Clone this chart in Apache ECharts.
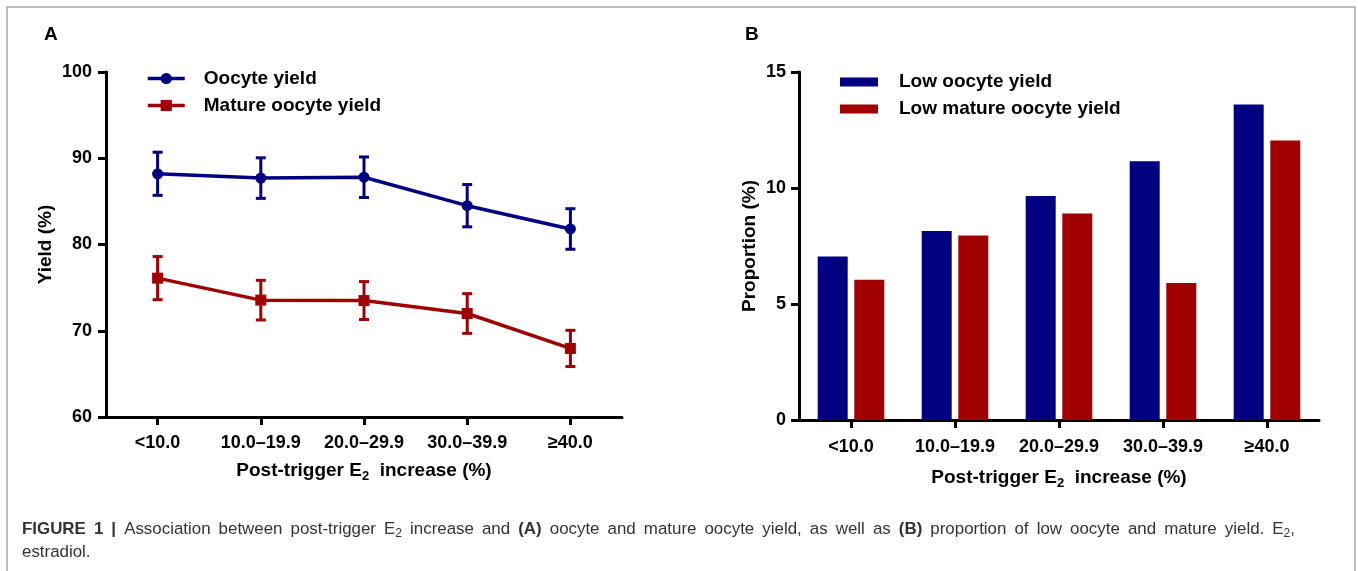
<!DOCTYPE html>
<html>
<head>
<meta charset="utf-8">
<script src="https://cdn.jsdelivr.net/npm/echarts@6/dist/echarts.min.js"></script>
<style>
  html, body { margin: 0; padding: 0; background: #fff; }
  #main { width: 1358px; height: 571px; }
</style>
</head>
<body>
<div id="main"></div>
<script>
// categories shared by both panels
var categories = ['<10.0', '10.0–19.9', '20.0–29.9', '30.0–39.9', '≥40.0'];

// panel A: yield (%) with error half-widths
var oocyteYield = [88.2, 87.7, 87.8, 84.5, 81.8];
var oocyteErr = [2.5, 2.35, 2.35, 2.45, 2.35];
var matureYield = [76.1, 73.55, 73.5, 72.0, 67.95];
var matureErr = [2.5, 2.3, 2.2, 2.3, 2.1];

// panel B: proportion (%)
var lowOocyte = [7.05, 8.15, 9.65, 11.15, 13.6];
var lowMature = [6.05, 7.95, 8.9, 5.9, 12.05];

var BLUE = '#000080';
var RED = '#a00000';
var FONT = '"Liberation Sans", Arial, sans-serif';

function errData(mean, err) {
  return mean.map(function (m, i) { return [i, m - err[i], m + err[i]]; });
}

function errorBars(color) {
  return function (params, api) {
    var i = api.value(0);
    var lo = api.coord([i, api.value(1)]);
    var hi = api.coord([i, api.value(2)]);
    var w = 5;
    var st = { stroke: color, lineWidth: 3, fill: null };
    return {
      type: 'group',
      children: [
        { type: 'line', shape: { x1: hi[0], y1: hi[1], x2: lo[0], y2: lo[1] }, style: st },
        { type: 'line', shape: { x1: hi[0] - w, y1: hi[1], x2: hi[0] + w, y2: hi[1] }, style: st },
        { type: 'line', shape: { x1: lo[0] - w, y1: lo[1], x2: lo[0] + w, y2: lo[1] }, style: st }
      ]
    };
  };
}

var axisLineSt = { show: true, lineStyle: { color: '#000', width: 3 } };
var tickSt = { show: true, length: 8, lineStyle: { color: '#000', width: 3 } };
var labelSt = { color: '#000', fontSize: 18, fontWeight: 'bold', fontFamily: FONT };
var nameSt = {
  color: '#000', fontSize: 19, fontWeight: 'bold', fontFamily: FONT, lineHeight: 24,
  rich: { s: { fontSize: 13, fontWeight: 'bold', fontFamily: FONT, color: '#000', verticalAlign: 'bottom' } }
};
var xName = 'Post-trigger E{s|2}  increase (%)';

// caption: first line is justified in the source, so spaces are widened a little
var capLine1 = '{b|FIGURE 1 |} Association between post-trigger E{s|2} increase and {b|(A)} oocyte and mature oocyte yield, as well as {b|(B)} proportion of low oocyte and mature yield. E{s|2},'
  .replace(/ /g, ' \u2009');

var chart = echarts.init(document.getElementById('main'));

chart.setOption({
  animation: false,
  backgroundColor: '#fff',
  grid: [
    { left: 106, width: 516, top: 72, height: 345 },
    { left: 799, width: 520, top: 72, height: 348 }
  ],
  xAxis: [
    {
      type: 'category', gridIndex: 0, data: categories,
      axisLine: axisLineSt, axisTick: Object.assign({ alignWithLabel: true }, tickSt),
      axisLabel: Object.assign({ margin: 17, interval: 0 }, labelSt),
      name: xName, nameLocation: 'middle', nameGap: 42, nameTextStyle: nameSt
    },
    {
      type: 'category', gridIndex: 1, data: categories,
      axisLine: axisLineSt, axisTick: Object.assign({ alignWithLabel: true }, tickSt),
      axisLabel: Object.assign({ margin: 18, interval: 0 }, labelSt),
      name: xName, nameLocation: 'middle', nameGap: 46, nameTextStyle: nameSt
    }
  ],
  yAxis: [
    {
      type: 'value', gridIndex: 0, min: 60, max: 100, interval: 10,
      axisLine: axisLineSt, axisTick: tickSt, splitLine: { show: false },
      axisLabel: Object.assign({ margin: 14 }, labelSt),
      name: 'Yield (%)', nameLocation: 'middle', nameGap: 37, nameTextStyle: nameSt
    },
    {
      type: 'value', gridIndex: 1, min: 0, max: 15, interval: 5,
      axisLine: axisLineSt, axisTick: tickSt, splitLine: { show: false },
      axisLabel: Object.assign({ margin: 13 }, labelSt),
      name: 'Proportion (%)', nameLocation: 'middle', nameGap: 26, nameTextStyle: nameSt
    }
  ],
  legend: [
    {
      data: ['Oocyte yield', 'Mature oocyte yield'],
      orient: 'vertical', left: 146, top: 69, padding: 0,
      itemWidth: 37, itemHeight: 14, itemGap: 8,
      lineStyle: { width: 3.5 },
      textStyle: { color: '#000', fontSize: 19, fontWeight: 'bold', fontFamily: FONT, padding: [0, 0, 0, 14] }
    },
    {
      data: ['Low oocyte yield', 'Low mature oocyte yield'],
      orient: 'vertical', left: 840, top: 72.5, padding: 0,
      itemWidth: 38, itemHeight: 9, itemGap: 8, icon: 'rect',
      textStyle: { color: '#000', fontSize: 19, fontWeight: 'bold', fontFamily: FONT, padding: [0, 0, 0, 16] }
    }
  ],
  series: [
    {
      name: 'Oocyte yield', type: 'line', xAxisIndex: 0, yAxisIndex: 0,
      data: oocyteYield, symbol: 'circle', symbolSize: 11,
      itemStyle: { color: BLUE }, lineStyle: { color: BLUE, width: 3.5 }, z: 3
    },
    {
      name: 'Mature oocyte yield', type: 'line', xAxisIndex: 0, yAxisIndex: 0,
      data: matureYield, symbol: 'rect', symbolSize: 11,
      itemStyle: { color: RED }, lineStyle: { color: RED, width: 3.5 }, z: 3
    },
    {
      name: 'Oocyte yield error', type: 'custom', xAxisIndex: 0, yAxisIndex: 0,
      renderItem: errorBars(BLUE), data: errData(oocyteYield, oocyteErr), z: 2
    },
    {
      name: 'Mature oocyte yield error', type: 'custom', xAxisIndex: 0, yAxisIndex: 0,
      renderItem: errorBars(RED), data: errData(matureYield, matureErr), z: 2
    },
    {
      name: 'Low oocyte yield', type: 'bar', xAxisIndex: 1, yAxisIndex: 1,
      data: lowOocyte, barWidth: 30, barGap: '22%', itemStyle: { color: BLUE }
    },
    {
      name: 'Low mature oocyte yield', type: 'bar', xAxisIndex: 1, yAxisIndex: 1,
      data: lowMature, barWidth: 30, barGap: '22%', itemStyle: { color: RED }
    }
  ],
  graphic: [
    {
      type: 'rect', silent: true, z: -1,
      shape: { x: 7, y: 7, width: 1348, height: 600 },
      style: { fill: null, stroke: '#a8a8a8', lineWidth: 1.5 }
    },
    {
      type: 'text', left: 44, top: 25.5,
      style: { text: 'A', fill: '#000', font: 'bold 19px ' + FONT }
    },
    {
      type: 'text', left: 745, top: 25.5,
      style: { text: 'B', fill: '#000', font: 'bold 19px ' + FONT }
    },
    {
      type: 'text', left: 22, top: 518,
      style: {
        text: capLine1,
        fill: '#333', fontSize: 16.9, fontFamily: FONT, lineHeight: 22,
        rich: {
          b: { fontSize: 16.9, fontWeight: 'bold', fontFamily: FONT, fill: '#333' },
          s: { fontSize: 12, fontFamily: FONT, fill: '#333', verticalAlign: 'bottom' }
        }
      }
    },
    {
      type: 'text', left: 22, top: 541,
      style: { text: 'estradiol.', fill: '#333', fontSize: 16.9, fontFamily: FONT, lineHeight: 22 }
    }
  ]
});
</script>
</body>
</html>
